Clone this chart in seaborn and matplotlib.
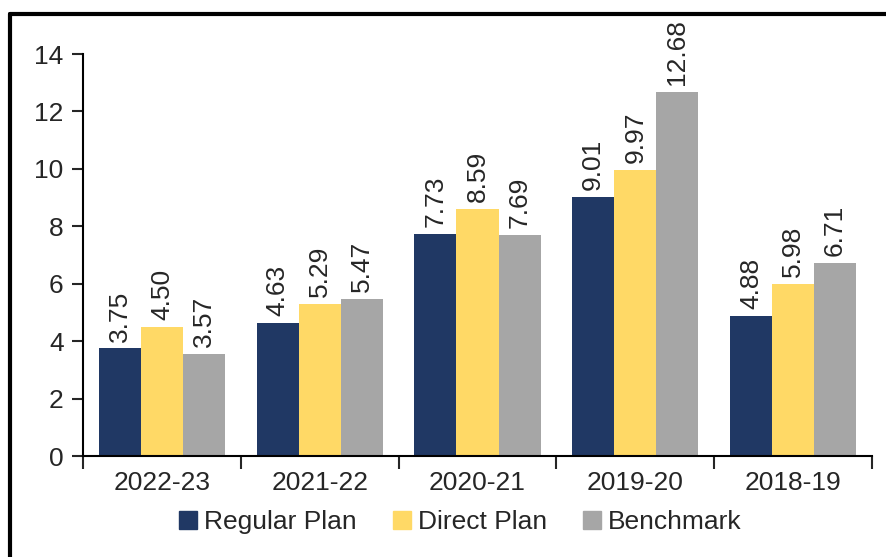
import pandas as pd
import matplotlib.pyplot as plt
import seaborn as sns
from matplotlib.lines import Line2D

# Chart data
years = ["2022-23", "2021-22", "2020-21", "2019-20", "2018-19"]
regular_plan = [3.75, 4.63, 7.73, 9.01, 4.88]
direct_plan = [4.50, 5.29, 8.59, 9.97, 5.98]
benchmark = [3.57, 5.47, 7.69, 12.68, 6.71]
series_names = ["Regular Plan", "Direct Plan", "Benchmark"]
colors = ["#203864", "#FFD966", "#A6A6A6"]

df = pd.DataFrame({
    "Year": years * 3,
    "Series": [series_names[0]] * 5 + [series_names[1]] * 5 + [series_names[2]] * 5,
    "Value": regular_plan + direct_plan + benchmark,
})

sns.set_style("white")
plt.rcParams['font.family'] = ['Liberation Sans', 'DejaVu Sans']
fs = 19

fig = plt.figure(figsize=(8.87, 5.57), dpi=100)
ax = fig.add_axes([0.0936, 0.181, 0.983 - 0.0936, 0.903 - 0.181])

sns.barplot(data=df, x="Year", y="Value", hue="Series", palette=colors,
            width=0.8, saturation=1, ax=ax, legend=False, linewidth=0)

for container in ax.containers:
    ax.bar_label(container, fmt="%.2f", rotation=90, padding=5, fontsize=fs)

ax.set_ylim(0, 14)
ax.set_xlim(-0.5, 4.5)
ax.set_yticks(range(0, 15, 2))
ax.set_xlabel("")
ax.set_ylabel("")

# category boundary ticks on x axis
ax.set_xticks([i - 0.5 for i in range(6)], minor=True)
ax.tick_params(axis="x", which="major", length=0, labelsize=fs, pad=11)
ax.tick_params(axis="x", which="minor", length=9, width=1.5, direction="out", bottom=True)
ax.tick_params(axis="y", length=8, width=1.5, direction="out", left=True, labelsize=fs, pad=6)

sns.despine(ax=ax)
for side in ["left", "bottom"]:
    ax.spines[side].set_linewidth(1.5)
    ax.spines[side].set_color("black")

handles = [Line2D([0], [0], marker="s", linestyle="", markersize=12.5,
                  markerfacecolor=c, markeredgecolor=c) for c in colors]
fig.legend(handles, series_names, loc="center", bbox_to_anchor=(0.518, 0.063),
           ncol=3, frameon=False, fontsize=fs, handletextpad=0.2,
           columnspacing=1.3, handlelength=0.8)

# outer frame: top and left only
fig.add_artist(Line2D([0.0113, 1.0], [0.975, 0.975], transform=fig.transFigure,
                      color="black", linewidth=3))
fig.add_artist(Line2D([0.0113, 0.0113], [0.0, 0.975], transform=fig.transFigure,
                      color="black", linewidth=3))

fig.savefig("out.png", dpi=100)
